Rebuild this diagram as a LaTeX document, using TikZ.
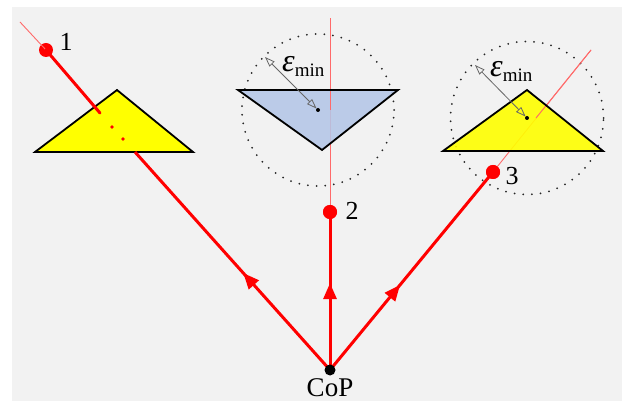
\documentclass[tikz,border=0pt]{standalone}
\usepackage{fontspec}
\setmainfont{Liberation Serif}
\usetikzlibrary{arrows.meta,decorations.markings}
\definecolor{bgpanel}{HTML}{F2F2F2}
\definecolor{rayred}{HTML}{FF0000}
\definecolor{thinred}{HTML}{FF6A6A}
\definecolor{triyellow}{HTML}{FFFF00}
\definecolor{triblue}{HTML}{B4C6E7}
\tikzset{
  ray/.style={draw=rayred, line width=3pt},
  thinray/.style={draw=thinred, line width=0.9pt},
  tri/.style={draw=black, line width=1.8pt, line join=miter},
  dotcirc/.style={draw=black!85, line width=2pt, dash pattern=on 0pt off 8.7pt, line cap=round},
  redpt/.style={circle, fill=rayred, inner sep=0pt, minimum size=14pt},
  smalldot/.style={circle, fill=rayred, inner sep=0pt, minimum size=3.6pt},
  blackdot/.style={circle, fill=black, inner sep=0pt, minimum size=4pt},
  copdot/.style={circle, fill=black, inner sep=0pt, minimum size=11pt},
  numlbl/.style={font=\fontsize{26}{26}\selectfont, inner sep=0pt, anchor=base},
  epsarrow/.style={draw=black!60, line width=0.8pt,
    {Triangle[open,length=10pt,width=7pt]}-{Triangle[open,length=10pt,width=7pt]}},
  midarrow/.style={postaction={decorate}, decoration={markings,
    mark=at position #1 with {\arrow{Triangle[length=16pt,width=13pt]}}}},
}
\newcommand{\epslabel}{{\fontsize{32}{32}\selectfont\textit{ε}}\raisebox{-5pt}{\fontsize{19}{19}\selectfont min}}
\begin{document}
\begin{tikzpicture}[x=1pt,y=-1pt]
\useasboundingbox (0,0) rectangle (624,403);
\fill[white] (0,0) rectangle (624,403);
\fill[bgpanel] (12,7) rectangle (622,401);

% coordinates
\coordinate (cop) at (330,370);
\coordinate (top1) at (20,22);
\coordinate (in1) at (100,113);
\coordinate (out1) at (135,152);
\coordinate (top2) at (330,18);
\coordinate (mid2) at (330,110);
\coordinate (top3) at (591,50);
\coordinate (mid3) at (536,118);
\coordinate (c2) at (318,110);
\coordinate (c3) at (527,118);
\coordinate (e2) at (265,57);
\coordinate (e3) at (475,65);

% triangle 1
\coordinate (t1a) at (35,152);
\coordinate (t1b) at (117,90);
\coordinate (t1c) at (193,152);
\filldraw[tri, fill=triyellow] (t1a) -- (t1b) -- (t1c) -- cycle;

% points
\node[redpt] (p1) at (46,50) {};
\node[redpt] (p2) at (330,212) {};
\node[redpt] (p3) at (493,172) {};

% ray 1
\draw[thinray] (p1.center) -- (top1);
\draw[ray, line cap=round] (p1.center) -- (in1);
\node[smalldot] (d1) at (112,127) {};
\node[smalldot] (d2) at (123,139) {};
\draw[ray, midarrow=0.445] (cop) -- (out1);

% ray 2
\draw[thinray] (p2.center) -- (top2);
\node[dotcirc, circle, minimum size=152pt, inner sep=0pt] (circ2) at (c2) {};
\coordinate (t2a) at (238,90);
\coordinate (t2b) at (398,90);
\coordinate (t2c) at (322,150);
\fill[triblue, fill opacity=0.88] (t2a) -- (t2b) -- (t2c) -- cycle;
\draw[thinray] (mid2) -- (top2);
\draw[tri] (t2a) -- (t2b) -- (t2c) -- cycle;
\draw[ray, midarrow=0.55] (cop) -- (p2.center);
\node[redpt] at (p2) {};

% ray 3
\draw[thinray] (p3.center) -- (top3);
\node[dotcirc, circle, minimum size=153pt, inner sep=0pt] (circ3) at (c3) {};
\coordinate (t3a) at (443,151);
\coordinate (t3b) at (527,90);
\coordinate (t3c) at (603,151);
\fill[triyellow, fill opacity=0.9] (t3a) -- (t3b) -- (t3c) -- cycle;
\draw[thinray] (mid3) -- (top3);
\draw[tri] (t3a) -- (t3b) -- (t3c) -- cycle;
\draw[ray, midarrow=0.43] (cop) -- (p3.center);
\node[redpt] at (p3) {};

% epsilon arrows
\node[blackdot] (k2) at (c2) {};
\node[blackdot] (k3) at (c3) {};
\draw[epsarrow, shorten <=2pt] (k2.center) -- (e2);
\draw[epsarrow, shorten <=2pt] (k3.center) -- (e3);
\node[anchor=base west, inner sep=0pt] (eps2) at (282,72) {\epslabel};
\node[anchor=base west, inner sep=0pt] (eps3) at (490,77) {\epslabel};

% labels
\node[numlbl] (l1) at (66,51) {1};
\node[numlbl] (l2) at (352,220) {2};
\node[numlbl] (l3) at (512,185) {3};
\node[copdot] (copd) at (cop) {};
\node[numlbl, font=\fontsize{27}{27}\selectfont] (coplbl) at (330,396) {CoP};
\end{tikzpicture}
\end{document}
